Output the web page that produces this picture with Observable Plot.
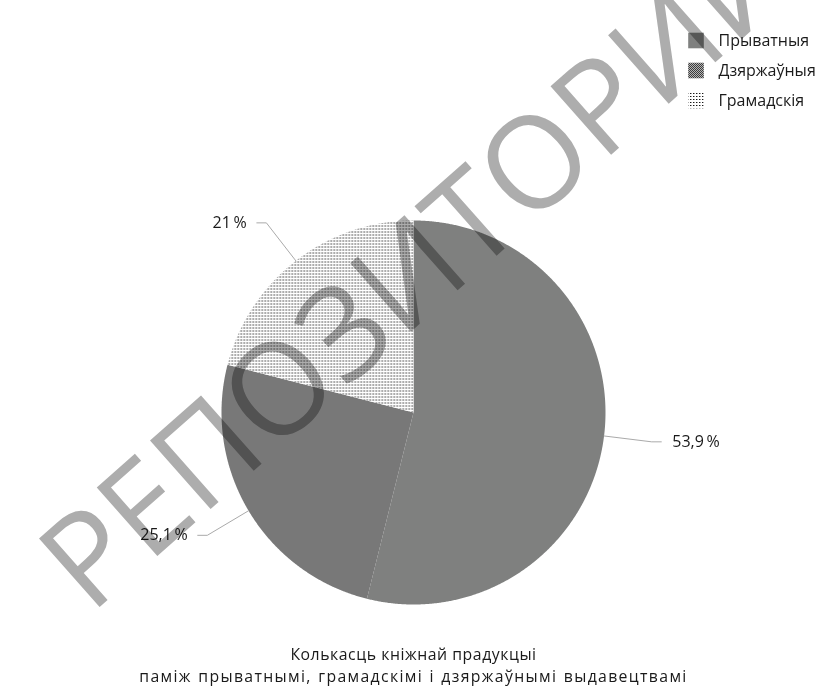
<!DOCTYPE html>
<html><head><meta charset="utf-8">
<script src="https://cdn.jsdelivr.net/npm/d3@7"></script>
<script src="https://cdn.jsdelivr.net/npm/@observablehq/plot@0.6"></script>
<style>
html,body{margin:0;padding:0;background:#fff;}
body{font-family:"Open Sans","Noto Sans",sans-serif;color:#1a1a1a;}
#wrap{position:relative;width:827px;height:687px;overflow:hidden;}
#chart svg{display:block;overflow:visible;}
#caption{position:absolute;left:0;top:644px;width:827px;text-align:center;font-size:15.8px;line-height:21.5px;color:#1a1a1a;}
#caption div:nth-child(1){letter-spacing:0.55px;}
#caption div:nth-child(2){letter-spacing:1.35px;word-spacing:1px;}
</style></head><body>
<div id="wrap"><div id="chart"></div><div id="caption"></div></div>
<script>
// ---- data ----
const categories = ["Прыватныя", "Дзяржаўныя", "Грамадскія"];
const shares = [53.9, 25.1, 21];
const valueLabels = ["53,9\u2009%", "25,1\u2009%", "21\u2009%"];
const patternIds = ["pPrivate", "pState", "pPublic"];
const captionLines = ["Колькасць кніжнай прадукцыі", "паміж прыватнымі, грамадскімі і дзяржаўнымі выдавецтвамі"];
const watermark = "РЕПОЗИТОРИЙ";

// ---- layout ----
const W = 827, H = 640, cx = 413, cy = 412, R = 192;
const px = v => (v - cx) / R, py = v => (v - cy) / R;

const arcs = d3.pie().sort(null).value(d => d)(shares);
const slicePts = [];
arcs.forEach((a, i) => {
  slicePts.push({i, x: 0, y: 0});
  const n = Math.max(8, Math.ceil((a.endAngle - a.startAngle) / 0.005));
  for (let k = 0; k <= n; k++) {
    const t = a.startAngle + (a.endAngle - a.startAngle) * k / n;
    slicePts.push({i, x: Math.sin(t), y: -Math.cos(t)});
  }
});
const leaders = [], labelPts = [];
arcs.forEach((a, i) => {
  const m = (a.startAngle + a.endAngle) / 2;
  const sx = Math.sin(m), sy = -Math.cos(m), side = sx >= 0 ? 1 : -1;
  const ex = 1.25 * sx, ey = 1.25 * sy;
  leaders.push({i, x: sx, y: sy}, {i, x: ex, y: ey}, {i, x: ex + side * 0.05, y: ey});
  labelPts.push({i, x: ex + side * 0.05, y: ey, side, text: valueLabels[i]});
});
const legend = categories.map((c, i) => ({c, i, y: py(40.5 + 30 * i)}));
const half = 7.8 / R;

const marks = [];
arcs.forEach((a, i) => {
  marks.push(Plot.line(slicePts.filter(d => d.i === i), {x: "x", y: "y", fill: `url(#${patternIds[i]})`, stroke: "none", curve: "linear-closed"}));
});
marks.push(Plot.line(leaders, {x: "x", y: "y", z: "i", stroke: "#aaaaaa", strokeWidth: 1}));
marks.push(Plot.text(labelPts.filter(d => d.side > 0), {x: "x", y: "y", text: "text", dx: 11, textAnchor: "start", fontSize: 16, fill: "#1a1a1a"}));
marks.push(Plot.text(labelPts.filter(d => d.side < 0), {x: "x", y: "y", text: "text", dx: -10, textAnchor: "end", fontSize: 16, fill: "#1a1a1a"}));
marks.push(Plot.rect(legend, {x1: px(696) - half, x2: px(696) + half, y1: d => d.y - half, y2: d => d.y + half, fill: d => `url(#${patternIds[d.i]})`}));
marks.push(Plot.text(legend, {x: px(718), y: "y", text: "c", textAnchor: "start", fontSize: 16, fill: "#1a1a1a"}));
marks.push(Plot.text([watermark], {x: px(420), y: py(268), text: d => d, rotate: -41.5, fontSize: 128, fontWeight: 400, fontFamily: "Open Sans", fill: "#adadad", mixBlendMode: "multiply"}));

const svg = Plot.plot({
  width: W, height: H, margin: 0,
  style: {fontFamily: '"Open Sans","Noto Sans",sans-serif', background: "#fff", overflow: "visible"},
  x: {domain: [px(0), px(W)], range: [0, W], axis: null},
  y: {domain: [py(0), py(H)], range: [0, H], axis: null},
  marks
});

const defs = d3.select(svg).insert("defs", ":first-child");
defs.append("pattern").attr("id", "pPrivate").attr("patternUnits", "userSpaceOnUse").attr("width", 4).attr("height", 4)
  .append("rect").attr("width", 4).attr("height", 4).attr("fill", "#7f807f");
const ps = defs.append("pattern").attr("id", "pState").attr("patternUnits", "userSpaceOnUse").attr("width", 2).attr("height", 2);
ps.append("rect").attr("width", 2).attr("height", 2).attr("fill", "#b4b4b4");
ps.append("rect").attr("x", 0).attr("y", 0).attr("width", 1).attr("height", 1).attr("fill", "#3c3c3c");
ps.append("rect").attr("x", 1).attr("y", 1).attr("width", 1).attr("height", 1).attr("fill", "#3c3c3c");
const pp = defs.append("pattern").attr("id", "pPublic").attr("patternUnits", "userSpaceOnUse").attr("width", 3).attr("height", 3);
pp.append("rect").attr("width", 3).attr("height", 3).attr("fill", "#ffffff");
pp.append("rect").attr("x", 0).attr("y", 0).attr("width", 1).attr("height", 1).attr("fill", "#1a1a1a");
pp.append("rect").attr("x", 1).attr("y", 0).attr("width", 1).attr("height", 1).attr("fill", "#9a9a9a");

document.getElementById("chart").appendChild(svg);
const cap = document.getElementById("caption");
captionLines.forEach(t => { const d = document.createElement("div"); d.textContent = t; cap.appendChild(d); });
</script>
</body></html>
